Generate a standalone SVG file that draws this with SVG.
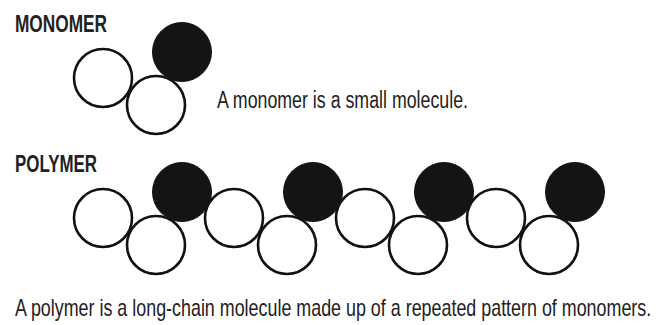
<svg xmlns="http://www.w3.org/2000/svg" width="656" height="325" viewBox="0 0 656 325">
<style>
.w{fill:#fff;stroke:#111;stroke-width:2.6}
.b{fill:#141414;stroke:#141414;stroke-width:1}
.h{font-family:"Liberation Sans",Arial,sans-serif;font-weight:bold;font-size:24px;fill:#222}
.t{font-family:"Liberation Sans",Arial,sans-serif;font-size:23px;fill:#222}
</style>
<rect width="656" height="325" fill="#fff"/>
<text class="h" x="15" y="32" textLength="92" lengthAdjust="spacingAndGlyphs">MONOMER</text>
<g id="monomer">
<circle class="w" cx="103" cy="78" r="29"/>
<circle class="w" cx="156" cy="105" r="29"/>
<circle class="b" cx="182" cy="52" r="29.5"/>
</g>
<text class="t" x="217" y="108" textLength="251" lengthAdjust="spacingAndGlyphs">A monomer is a small molecule.</text>
<text class="h" x="15" y="172" textLength="82" lengthAdjust="spacingAndGlyphs">POLYMER</text>
<g id="polymer">
<g id="unit1"><circle class="w" cx="103" cy="218" r="29"/><circle class="w" cx="156" cy="245" r="29"/><circle class="b" cx="182" cy="192" r="29.5"/></g>
<g id="unit2"><circle class="w" cx="234" cy="218" r="29"/><circle class="w" cx="287" cy="245" r="29"/><circle class="b" cx="313" cy="192" r="29.5"/></g>
<g id="unit3"><circle class="w" cx="365" cy="218" r="29"/><circle class="w" cx="418" cy="245" r="29"/><circle class="b" cx="444" cy="192" r="29.5"/></g>
<g id="unit4"><circle class="w" cx="496" cy="218" r="29"/><circle class="w" cx="549" cy="245" r="29"/><circle class="b" cx="575" cy="192" r="29.5"/></g>
</g>
<text class="t" transform="translate(15,316) scale(0.778,1)" x="0" y="0">A polymer is a long-chain molecule made up of a repeated pattern of monomers.</text>
</svg>
